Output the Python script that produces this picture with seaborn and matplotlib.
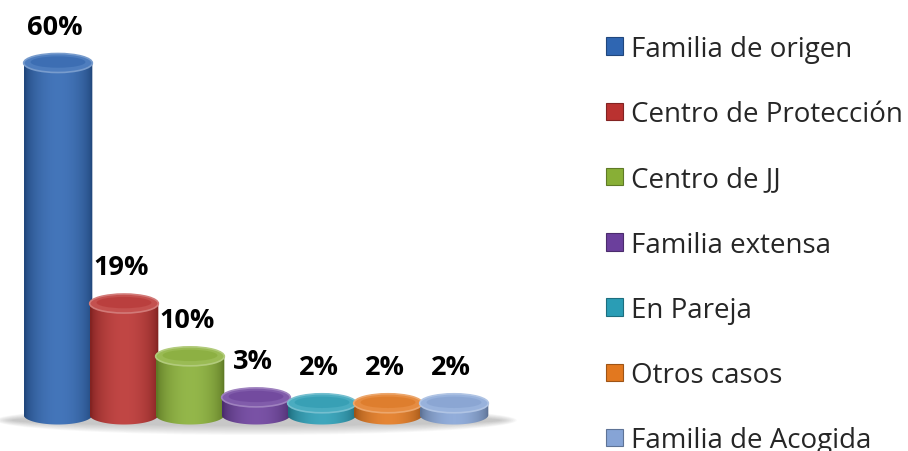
import numpy as np
import pandas as pd
import matplotlib
matplotlib.use("Agg")
import matplotlib.pyplot as plt
import seaborn as sns
import matplotlib.colors as mcolors
from matplotlib.patches import Ellipse, PathPatch, Patch
from matplotlib.path import Path

categories = ["Familia de origen", "Centro de Protección", "Centro de JJ",
              "Familia extensa", "En Pareja", "Otros casos", "Familia de Acogida"]
values = [60, 19, 10, 3, 2, 2, 2]
labels = ["60%", "19%", "10%", "3%", "2%", "2%", "2%"]
colors = ["#2F66B2", "#BA3230", "#88AF36", "#6B3F9C", "#2A9DB5", "#E2781F", "#86A4D6"]

sns.set_theme(style="white")
plt.rcParams['font.family'] = ['Open Sans', 'DejaVu Sans']

W, H = 908, 452
fig = plt.figure(figsize=(W / 100, H / 100), dpi=100)
fig.patch.set_facecolor("white")
ax = fig.add_axes([0, 0, 520 / W, 1])

df = pd.DataFrame({"cat": categories, "val": values})
sns.barplot(data=df, x="cat", y="val", hue="cat", palette=colors, width=1.04,
            saturation=1, legend=False, ax=ax)

# axis limits (pixel mapping)
ppx = 66.0       # pixels per category
ppy = 352 / 60   # pixels per percent
base_px = 416
ax.set_xlim(-0.5 - 25 / ppx, -0.5 + (520 - 25) / ppx)
ax.set_ylim(-(H - base_px) / ppy, base_px / ppy)
ax.axis("off")

eh = 19 / ppy  # ellipse height in data units

# floor shadow
for i in range(10):
    f = i / 9
    ax.add_patch(Ellipse((3.0, -0.9), 7.9 - 0.5 * f, 5.0 - 3.2 * f,
                         facecolor="#808080", edgecolor="none", alpha=0.05, zorder=1))

t = np.linspace(0, 1, 200)
shape = np.clip(np.sin(np.pi * np.clip((t - 0.02) / 0.96, 0, 1)), 0, 1) ** 0.6

for patch, col, lab in zip(ax.patches, colors, labels):
    x0 = patch.get_x()
    w = patch.get_width()
    h = patch.get_height()
    xc = x0 + w / 2
    rgb = np.array(mcolors.to_rgb(col))
    dark = rgb * 0.70
    light = rgb + (1 - rgb) * 0.10
    grad = dark[None, :] + (light - dark)[None, :] * shape[:, None]
    img = grad[None, :, :]
    patch.set_facecolor("none")
    patch.set_edgecolor("none")

    th = np.linspace(np.pi, 2 * np.pi, 60)
    pts = [(x0, h)] + [(xc + w / 2 * np.cos(a), eh / 2 * np.sin(a)) for a in th] + [(x0 + w, h), (x0, h)]
    body = PathPatch(Path(pts, closed=True), facecolor="none", edgecolor="none", zorder=2)
    ax.add_patch(body)
    im = ax.imshow(img, extent=[x0, x0 + w, -eh / 2, h], aspect="auto",
                   interpolation="bilinear", zorder=2)
    im.set_clip_path(body)

    top_col = rgb + (1 - rgb) * 0.15
    ax.add_patch(Ellipse((xc, h), w, eh, facecolor=top_col,
                         edgecolor=rgb + (1 - rgb) * 0.35, linewidth=1.2, zorder=3))
    ax.add_patch(Ellipse((xc, h + eh * 0.05), w * 0.8, eh * 0.6, facecolor=rgb * 0.95,
                         edgecolor="none", alpha=0.5, zorder=3))

    ax.annotate(lab, (xc, h), xytext=(-2, 26), textcoords="offset points",
                ha="center", va="center", fontsize=19.5, fontweight="bold",
                color="black", zorder=5)

handles = [Patch(facecolor=c, edgecolor=tuple(np.array(mcolors.to_rgb(c)) * 0.7), linewidth=0.8)
           for c in colors]
fig.legend(handles, categories, loc="upper left", bbox_to_anchor=(606 / W, 1 - 36 / H),
           frameon=False, fontsize=20, labelspacing=1.34, handlelength=0.6,
           handleheight=0.6, handletextpad=0.3, borderaxespad=0, borderpad=0)

fig.savefig("out.png", dpi=100, facecolor="white")
